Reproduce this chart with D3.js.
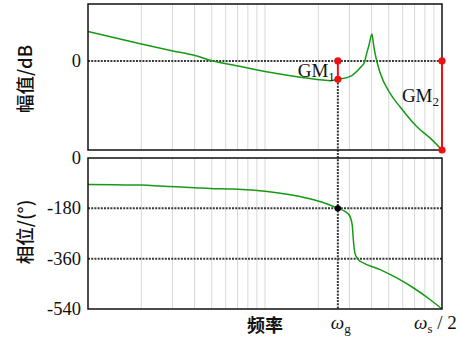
<!DOCTYPE html>
<html>
<head>
<meta charset="utf-8">
<script src="https://cdn.jsdelivr.net/npm/d3@7"></script>
<style>
  body { margin: 0; background: #fff; }
  svg { display: block; }
</style>
</head>
<body>
<script>
// magnitude curve (frequency, dB)
const magFreq = [1, 2, 3.02, 4.02, 5.08, 6.6, 10.2, 15.8, 21.3, 23.3, 25.8, 30.1, 34.4, 36.5, 37.6, 38.7, 40.2, 41.0, 41.8, 44.7, 50.8, 57.9, 71.9, 85.5, 100]
const magDb = [10.9, 6.3, 3.7, 2.0, 0, -1.5, -4.0, -6.0, -7.1, -7.3, -6.8, -5.8, -2.6, -0.4, 3.0, 5.9, 10.0, 6.3, 3.0, -4.4, -11.9, -17.0, -24.3, -28.5, -33.0]

// phase curve (frequency, degrees)
const phaseFreq = [1, 1.42, 2.01, 2.55, 3.17, 4.02, 4.89, 6.6, 10.3, 15.8, 21.3, 25.8, 28.3, 30.2, 31.1, 31.5, 32.2, 33.7, 35.9, 44.7, 55.5, 68.8, 85.5, 100]
const phaseDeg = [-95, -96, -97, -100, -103, -106, -109, -111, -120, -138, -159, -180, -191, -209, -239, -286, -340, -364, -375, -399, -429, -464, -506, -540]

const magTicks = [0]
const phaseTicks = [0, -180, -360, -540]
const phaseRefs = [-180, -360]

const wg = 25.8        // phase crossover frequency
const ws2 = 100        // half sampling frequency
const gm1Db = -6.8
const gm2Db = -33.0

const W = 460, H = 340
const left = 88, right = 442
const magTop = 4, magBottom = 150
const phTop = 158, phBottom = 309

const green = '#169a16'
const red = '#f01010'
const serif = '"Liberation Serif", "DejaVu Serif", serif'
const cjk = '"Noto Sans CJK SC", "Noto Sans", sans-serif'

const svg = d3.select('body').append('svg')
	.attr('width', W)
	.attr('height', H)

const x = d3.scaleLog().domain([1, 100]).range([left, right])
const yMag = d3.scaleLinear().domain([-33, 21.1]).range([magBottom, magTop])
const yPh = d3.scaleLinear().domain([-540, 0]).range([phBottom, phTop])

const gridTicks = x.ticks().filter(t => t > 1 && t < 100)

// vertical log grid, both panels
;[[magTop, magBottom], [phTop, phBottom]].forEach(([t, b]) => {
	svg.append('g')
		.selectAll('line')
		.data(gridTicks)
		.join('line')
		.attr('x1', d => x(d)).attr('x2', d => x(d))
		.attr('y1', t).attr('y2', b)
		.style('stroke', '#d8d8d8')
		.style('stroke-width', 1)
})

const dotted = sel => sel
	.style('stroke', '#383838')
	.style('stroke-width', 2)
	.style('stroke-dasharray', '2,1.2')

// reference lines
svg.append('g').selectAll('line')
	.data(magTicks)
	.join('line')
	.attr('x1', left).attr('x2', right)
	.attr('y1', d => yMag(d)).attr('y2', d => yMag(d))
	.call(dotted)

svg.append('g').selectAll('line')
	.data(phaseRefs)
	.join('line')
	.attr('x1', left).attr('x2', right)
	.attr('y1', d => yPh(d)).attr('y2', d => yPh(d))
	.call(dotted)

svg.append('line')
	.attr('x1', x(wg)).attr('x2', x(wg))
	.attr('y1', yMag(gm1Db)).attr('y2', phBottom)
	.call(dotted)

// curves
const magLine = d3.line()
	.x(d => x(d[0]))
	.y(d => yMag(d[1]))
	.curve(d3.curveMonotoneX)

const phLine = d3.line()
	.x(d => x(d[0]))
	.y(d => yPh(d[1]))
	.curve(d3.curveMonotoneX)

svg.append('path')
	.datum(d3.zip(magFreq, magDb))
	.attr('d', magLine)
	.attr('fill', 'none')
	.style('stroke', green)
	.style('stroke-width', 1.5)

svg.append('path')
	.datum(d3.zip(phaseFreq, phaseDeg))
	.attr('d', phLine)
	.attr('fill', 'none')
	.style('stroke', green)
	.style('stroke-width', 1.5)

// frames
;[[magTop, magBottom], [phTop, phBottom]].forEach(([t, b]) => {
	svg.append('rect')
		.attr('x', left).attr('y', t)
		.attr('width', right - left).attr('height', b - t)
		.attr('fill', 'none')
		.style('stroke', '#111')
		.style('stroke-width', 1.5)
})

// gain margins
const margins = [[wg, gm1Db], [ws2, gm2Db]]
svg.append('g').selectAll('line')
	.data(margins)
	.join('line')
	.attr('x1', d => x(d[0])).attr('x2', d => x(d[0]))
	.attr('y1', yMag(0)).attr('y2', d => yMag(d[1]))
	.style('stroke', red)
	.style('stroke-width', 2)

svg.append('g').selectAll('circle')
	.data(margins.flatMap(d => [[d[0], 0], d]))
	.join('circle')
	.attr('cx', d => x(d[0]))
	.attr('cy', d => yMag(d[1]))
	.attr('r', 3.6)
	.attr('fill', red)

svg.append('circle')
	.attr('cx', x(wg))
	.attr('cy', yPh(-180))
	.attr('r', 3.2)
	.attr('fill', '#000')

// GM labels
const gmLabel = (tx, ty, sub) => {
	const t = svg.append('text')
		.attr('x', tx).attr('y', ty)
		.attr('text-anchor', 'end')
		.style('font-family', serif)
		.style('font-size', '19px')
		.attr('fill', '#111')
	t.append('tspan').text('GM')
	t.append('tspan').attr('dy', 4).style('font-size', '13px').text(sub)
}
gmLabel(x(wg) - 3, 77, '1')
gmLabel(439, 102, '2')

// tick labels
svg.append('g').selectAll('text')
	.data(magTicks)
	.join('text')
	.attr('x', 81)
	.attr('y', d => yMag(d) + 6)
	.attr('text-anchor', 'end')
	.style('font-family', serif)
	.style('font-size', '18.5px')
	.attr('fill', '#111')
	.text(d => d)

svg.append('g').selectAll('text')
	.data(phaseTicks)
	.join('text')
	.attr('x', 81)
	.attr('y', d => yPh(d) + 6)
	.attr('text-anchor', 'end')
	.style('font-family', serif)
	.style('font-size', '18.5px')
	.attr('fill', '#111')
	.text(d => d)

// axis titles
const yTitle = (cy, txt) => svg.append('text')
	.attr('transform', 'translate(32,' + cy + ') rotate(-90)')
	.attr('text-anchor', 'middle')
	.style('font-family', cjk)
	.style('font-size', '18.5px')
	.style('font-weight', 500)
	.attr('fill', '#111')
	.text(txt)
yTitle(79, '幅值/dB')
yTitle(232, '相位/(°)')

svg.append('text')
	.attr('x', 265).attr('y', 332)
	.attr('text-anchor', 'middle')
	.style('font-family', cjk)
	.style('font-size', '18px')
	.style('font-weight', 'bold')
	.attr('fill', '#111')
	.text('频率')

const omega = (tx, sub, rest) => {
	const t = svg.append('text')
		.attr('x', tx).attr('y', 329)
		.style('font-family', serif)
		.style('font-size', '19px')
		.attr('fill', '#111')
	t.append('tspan').style('font-style', 'italic').text('ω')
	t.append('tspan').attr('dy', 4).style('font-size', '13px').text(sub)
	if (rest) t.append('tspan').attr('dy', -4).text(rest)
}
omega(x(wg) - 7, 'g')
omega(414, 's', ' / 2')
</script>
</body>
</html>
